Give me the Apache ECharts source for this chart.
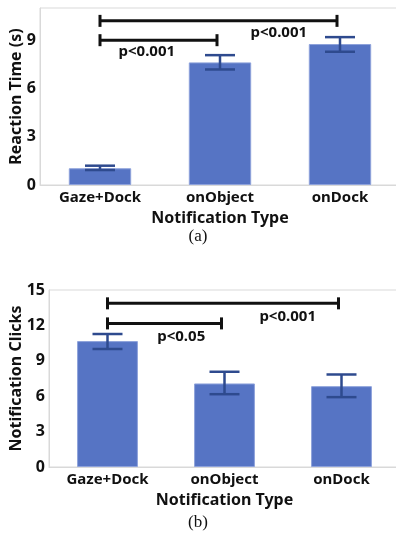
<!DOCTYPE html>
<html>
<head>
<meta charset="utf-8">
<script src="https://cdn.jsdelivr.net/npm/echarts@6/dist/echarts.min.js"></script>
<style>
  html, body { margin: 0; padding: 0; background: #fff; }
  #chart { width: 396px; height: 543px; }
</style>
</head>
<body>
<div id="chart"></div>
<script>
// categories shared by both panels
var categories = ['Gaze+Dock', 'onObject', 'onDock'];

// (a) reaction time
var rtMean = [1.04, 7.62, 8.76];
var rtLow = [0.93, 7.18, 8.28];
var rtHigh = [1.2, 8.07, 9.19];
// brackets: [from cat, to cat, y]
var rtBrackets = [[0, 1, 9.0], [0, 2, 10.2]];
// p labels: [x (cat units), y, text]
var rtLabels = [[0.39, 8.26, 'p<0.001'], [1.49, 9.44, 'p<0.001']];

// (b) notification clicks
var clMean = [10.67, 7.08, 6.85];
var clLow = [10.0, 6.17, 5.92];
var clHigh = [11.27, 8.07, 7.84];
var clBrackets = [[0, 1, 12.17], [0, 2, 13.87]];
var clLabels = [[0.63, 11.04, 'p<0.05'], [1.54, 12.73, 'p<0.001']];

var FONT = 'Noto Sans';
var barColor = '#5674c4';
var errColor = '#2e4a8e';

function errData(lo, hi) {
  return categories.map(function (c, i) { return [i, lo[i], hi[i]]; });
}

function renderErr(params, api) {
  var lo = api.coord([api.value(0), api.value(1)]);
  var hi = api.coord([api.value(0), api.value(2)]);
  var w = 15;
  var st = { stroke: errColor, lineWidth: 2.5 };
  return {
    type: 'group',
    children: [
      { type: 'line', shape: { x1: hi[0], y1: hi[1], x2: lo[0], y2: lo[1] }, style: st },
      { type: 'line', shape: { x1: hi[0] - w, y1: hi[1], x2: hi[0] + w, y2: hi[1] }, style: st },
      { type: 'line', shape: { x1: lo[0] - w, y1: lo[1], x2: lo[0] + w, y2: lo[1] }, style: st }
    ]
  };
}

function renderBracket(params, api) {
  var a = api.coord([api.value(0), api.value(2)]);
  var b = api.coord([api.value(1), api.value(2)]);
  var h = 6;
  var st = { stroke: '#111', lineWidth: 3 };
  return {
    type: 'group',
    children: [
      { type: 'line', shape: { x1: a[0], y1: a[1], x2: b[0] - 3, y2: b[1] }, style: st },
      { type: 'line', shape: { x1: a[0], y1: a[1] - h, x2: a[0], y2: a[1] + h }, style: st },
      { type: 'line', shape: { x1: b[0] - 3, y1: b[1] - h, x2: b[0] - 3, y2: b[1] + h }, style: st }
    ]
  };
}

// category axis snaps to whole categories, so interpolate between neighbours
function makeLabelSeries(labels, idx) {
  return {
    type: 'custom', xAxisIndex: idx, yAxisIndex: idx,
    data: labels.map(function (l) { return [l[0], l[1]]; }),
    renderItem: function (params, api) {
      var xv = api.value(0), yv = api.value(1);
      var i0 = Math.floor(xv);
      var p0 = api.coord([i0, yv]);
      var p1 = api.coord([i0 + 1, yv]);
      var x = p0[0] + (p1[0] - p0[0]) * (xv - i0);
      return {
        type: 'text', x: x, y: p0[1],
        style: { text: labels[params.dataIndex][2], fill: '#111', font: 'bold 15px "' + FONT + '"', align: 'center', verticalAlign: 'middle' }
      };
    },
    silent: true, z: 5
  };
}

function xAxis(idx) {
  return {
    type: 'category', gridIndex: idx, data: categories,
    name: 'Notification Type', nameLocation: 'middle', nameGap: 25, nameMoveOverlap: false,
    nameTextStyle: { fontFamily: FONT, fontWeight: 'bold', fontSize: 16, color: '#111', verticalAlign: 'top' },
    axisLine: { lineStyle: { color: '#d9d9d9' } },
    axisTick: { show: false },
    axisLabel: { fontFamily: FONT, fontWeight: 'bold', fontSize: 15, color: '#111', margin: 5 }
  };
}

function yAxis(idx, name, max, gap) {
  return {
    type: 'value', gridIndex: idx, min: 0, max: max, interval: 3,
    name: name, nameLocation: 'middle', nameGap: gap, nameMoveOverlap: false,
    nameTextStyle: { fontFamily: FONT, fontWeight: 'bold', fontSize: 16, color: '#111' },
    axisLine: { show: true, lineStyle: { color: '#d9d9d9' } },
    axisTick: { show: false },
    splitLine: { show: false },
    axisLabel: { fontFamily: FONT, fontWeight: 'bold', fontSize: 16, color: '#111', margin: 4, showMaxLabel: max % 3 === 0 }
  };
}

var chart = echarts.init(document.getElementById('chart'), null, { renderer: 'canvas' });
chart.setOption({
  backgroundColor: '#fff',
  animation: false,
  grid: [
    { left: 40, top: 8, width: 360, height: 177, show: true, borderColor: '#d9d9d9', borderWidth: 1,
      outerBoundsMode: 'none', containLabel: false },
    { left: 49, top: 290, width: 351, height: 177, show: true, borderColor: '#d9d9d9', borderWidth: 1,
      outerBoundsMode: 'none', containLabel: false }
  ],
  xAxis: [xAxis(0), xAxis(1)],
  yAxis: [yAxis(0, 'Reaction Time (s)', 11, 16), yAxis(1, 'Notification Clicks', 15, 25)],
  graphic: [
    { type: 'text', left: 'center', top: 228, style: { text: '(a)', font: '17px "Liberation Serif"', fill: '#111' } },
    { type: 'text', left: 'center', top: 514, style: { text: '(b)', font: '17px "Liberation Serif"', fill: '#111' } }
  ],
  series: [
    { type: 'bar', xAxisIndex: 0, yAxisIndex: 0, data: rtMean, barWidth: '52%',
      itemStyle: { color: barColor, borderColor: '#8ea2db', borderWidth: 1 } },
    { type: 'custom', xAxisIndex: 0, yAxisIndex: 0, data: errData(rtLow, rtHigh), renderItem: renderErr, z: 3 },
    { type: 'custom', xAxisIndex: 0, yAxisIndex: 0, data: rtBrackets, renderItem: renderBracket, z: 4 },
    makeLabelSeries(rtLabels, 0),
    { type: 'bar', xAxisIndex: 1, yAxisIndex: 1, data: clMean, barWidth: '52%',
      itemStyle: { color: barColor, borderColor: '#8ea2db', borderWidth: 1 } },
    { type: 'custom', xAxisIndex: 1, yAxisIndex: 1, data: errData(clLow, clHigh), renderItem: renderErr, z: 3 },
    { type: 'custom', xAxisIndex: 1, yAxisIndex: 1, data: clBrackets, renderItem: renderBracket, z: 4 },
    makeLabelSeries(clLabels, 1)
  ]
});
</script>
</body>
</html>
